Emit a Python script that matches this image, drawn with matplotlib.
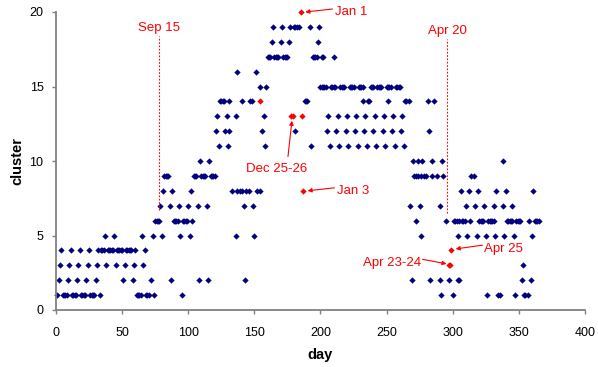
import numpy as np
import matplotlib
matplotlib.use("Agg")
import matplotlib.pyplot as plt

plt.rcParams['font.family'] = ['Liberation Sans', 'DejaVu Sans']

# days (x) per cluster (y)
c1 = [1, 5, 6, 7, 8, 12, 13, 14, 15, 19, 20, 21, 22, 26, 27, 28, 29, 33,
      61, 62, 63, 64, 68, 69, 70, 74, 95, 291, 300, 326, 334, 336, 347, 354, 355, 357]
c2 = [2, 9, 16, 23, 30, 51, 58, 72, 87, 108, 115, 143, 269, 283, 290, 297, 304, 305, 352, 359]
c3 = [3, 10, 17, 24, 31, 38, 45, 52, 59, 66, 353]
c4 = [4, 11, 18, 25, 32, 34, 35, 36, 39, 40, 41, 42, 43, 46, 47, 48, 49, 50,
      53, 54, 55, 56, 57, 60, 67]
c5 = [37, 44, 65, 73, 80, 94, 101, 136, 150, 276, 304, 311, 318, 325, 332, 339, 346, 360]
c6 = [75, 76, 77, 78, 89, 90, 91, 92, 96, 97, 98, 99, 103, 272, 295, 301, 302, 303, 305,
      307, 308, 309, 313, 320, 321, 322, 323, 327, 328, 329, 330, 331, 341, 342, 343,
      344, 345, 348, 349, 350, 351, 358, 362, 363, 364, 365]
c7 = [79, 86, 93, 100, 107, 114, 142, 149, 268, 275, 290, 310, 317, 324, 331, 338, 345]
c8 = [81, 88, 102, 133, 137, 139, 141, 144, 146, 152, 154, 306, 312, 319, 333, 340, 361]
c9 = [82, 83, 84, 85, 104, 105, 106, 110, 111, 112, 113, 117, 118, 119, 120,
      271, 272, 274, 276, 278, 280, 284, 288, 293, 314, 316]
c10 = [109, 116, 270, 274, 277, 284, 292, 338]
c11 = [123, 130, 158, 193, 207, 214, 221, 228, 235, 242, 249, 256, 263]
c12 = [121, 128, 131, 156, 181, 205, 212, 219, 226, 233, 240, 247, 254, 261, 282]
c13 = [122, 129, 136, 157, 206, 213, 220, 227, 234, 241, 248, 255, 262]
c14 = [124, 125, 126, 127, 131, 141, 147, 148, 188, 189, 190, 232, 236, 237, 251,
       264, 265, 267, 281, 286]
c15 = [154, 159, 200, 201, 202, 203, 204, 208, 209, 210, 211, 215, 216, 217, 218,
       222, 223, 224, 225, 229, 230, 231, 232, 238, 239, 240, 243, 244, 245, 246,
       250, 251, 252, 253, 257, 258, 259, 260]
c16 = [137, 151]
c17 = [160, 161, 162, 165, 166, 167, 168, 172, 173, 174, 175, 194, 195, 196, 197,
       201, 202, 210]
c18 = [163, 170, 176, 198]
c19 = [164, 171, 177, 180, 181, 182, 184, 192, 199]

# highlighted days
red_days = [154, 178, 179, 185, 186, 187, 297, 298, 299]
red_clusters = [14, 13, 13, 20, 13, 8, 3, 3, 4]

clusters = [c1, c2, c3, c4, c5, c6, c7, c8, c9, c10,
            c11, c12, c13, c14, c15, c16, c17, c18, c19]
xs = np.concatenate([np.array(d, float) for d in clusters])
ys = np.concatenate([np.full(len(d), i + 1.0) for i, d in enumerate(clusters)])

fig = plt.figure(figsize=(5.98, 3.67), dpi=100)
ax = fig.add_axes([56 / 598, 1 - 310 / 367, 529 / 598, 298 / 367])

ax.plot(xs, ys, 'D', color='#000080', ms=3.2, mew=0, clip_on=False)
ax.plot(red_days, red_clusters, 'D', color='red', ms=3.2, mew=0, clip_on=False)

# dotted date markers
ax.plot([78, 78], [6.7, 18.4], color='red', ls=(0, (1.5, 1.5)), lw=0.8)
ax.plot([296, 296], [6.5, 18.2], color='red', ls=(0, (1.5, 1.5)), lw=0.8)
ax.text(78, 18.95, "Sep 15", color='red', fontsize=9.5, ha='center', va='center')
ax.text(296, 18.75, "Apr 20", color='red', fontsize=9.5, ha='center', va='center')

arr = dict(arrowstyle='-|>', color='red', lw=0.8, mutation_scale=6,
           shrinkA=0, shrinkB=0)
ax.annotate("", xy=(188.5, 20.0), xytext=(209, 20.2), arrowprops=arr)
ax.text(211, 20.0, "Jan 1", color='red', fontsize=9.5, ha='left', va='center')
ax.annotate("", xy=(178.4, 12.7), xytext=(175.4, 10.3), arrowprops=arr)
ax.text(166.8, 9.45, "Dec 25-26", color='red', fontsize=9.5, ha='center', va='center')
ax.annotate("", xy=(190.2, 8.0), xytext=(210.5, 8.2), arrowprops=arr)
ax.text(212.4, 8.0, "Jan 3", color='red', fontsize=9.5, ha='left', va='center')
ax.annotate("", xy=(302.2, 4.1), xytext=(322.5, 4.35), arrowprops=arr)
ax.text(324, 4.1, "Apr 25", color='red', fontsize=9.5, ha='left', va='center')
ax.annotate("", xy=(295.3, 3.1), xytext=(277.2, 3.4), arrowprops=arr)
ax.text(276, 3.13, "Apr 23-24", color='red', fontsize=9.5, ha='right', va='center')

ax.set_xlim(0, 400)
ax.set_ylim(0, 20)
ax.set_xticks(np.arange(0, 401, 50))
ax.set_yticks(np.arange(0, 21, 5))
for s in ['top', 'right']:
    ax.spines[s].set_visible(False)
for s in ['left', 'bottom']:
    ax.spines[s].set_color('#808080')
    ax.spines[s].set_linewidth(1.3)
ax.tick_params(direction='out', length=3, width=1, color='#808080',
               labelsize=9, labelcolor='black', pad=2)
ax.tick_params(axis='x', pad=9)
ax.tick_params(axis='y', pad=6)

ax.set_xlabel("day", fontsize=10.5, fontweight='bold', labelpad=7)
ax.set_ylabel("cluster", fontsize=10.5, fontweight='bold', labelpad=4)

fig.savefig("out.png", dpi=100)
